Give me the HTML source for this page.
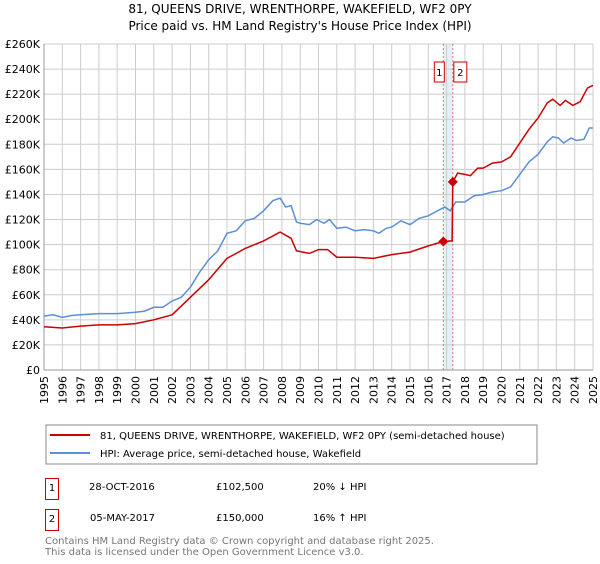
<!DOCTYPE html>
<html><head><meta charset="utf-8"><style>
body{margin:0;background:#fff;font-family:"DejaVu Sans","Liberation Sans",sans-serif;}
svg text{font-family:"DejaVu Sans","Liberation Sans",sans-serif;}
</style></head><body>
<svg id="c" width="600" height="560" xmlns="http://www.w3.org/2000/svg">
<text x="300" y="13" text-anchor="middle" font-size="12">81, QUEENS DRIVE, WRENTHORPE, WAKEFIELD, WF2 0PY</text>
<text x="300" y="30" text-anchor="middle" font-size="12">Price paid vs. HM Land Registry's House Price Index (HPI)</text>
<g id="grid"></g><g id="series"></g>
<rect x="46" y="425" width="491" height="39" fill="#fff" stroke="#888"/>
<line x1="50" y1="435" x2="90" y2="435" stroke="#cc0000" stroke-width="2"/>
<line x1="50" y1="453" x2="90" y2="453" stroke="#5b8fd6" stroke-width="2"/>
<text x="100" y="439" font-size="10">81, QUEENS DRIVE, WRENTHORPE, WAKEFIELD, WF2 0PY (semi-detached house)</text>
<text x="100" y="457" font-size="10">HPI: Average price, semi-detached house, Wakefield</text>
</svg>
<script>
const hpiYears=[1995,1995.5,1996,1996.5,1997,1998,1999,2000,2000.5,2001,2001.5,2002,2002.5,2003,2003.5,2004,2004.5,2005,2005.5,2006,2006.5,2007,2007.5,2007.9,2008.2,2008.5,2008.8,2009,2009.5,2009.9,2010.3,2010.6,2011,2011.5,2012,2012.5,2013,2013.3,2013.7,2014,2014.5,2015,2015.5,2016,2016.5,2016.9,2017.2,2017.5,2018,2018.5,2019,2019.5,2020,2020.5,2021,2021.5,2022,2022.5,2022.8,2023.1,2023.4,2023.8,2024.1,2024.5,2024.8,2025];
const hpiValues=[43,44,42,43.5,44,45,45,46,47,50,50,55,58,66,78,88,95,109,111,119,121,127,135,137,130,131,118,117,116,120,117,120,113,114,111,112,111,109,113,114,119,116,121,123,127,130,127,134,134,139,140,142,143,146,156,166,172,182,186,185,181,185,183,184,193,193];
const priceYears=[1995,1996,1997,1998,1999,2000,2001,2002,2003,2004,2005,2006,2007,2007.9,2008.5,2008.8,2009.5,2010,2010.5,2011,2012,2013,2014,2015,2016,2016.82,2017.3,2017.34,2017.6,2018,2018.3,2018.7,2019,2019.5,2020,2020.5,2021,2021.5,2022,2022.5,2022.8,2023.2,2023.5,2023.9,2024.3,2024.7,2025];
const priceValues=[34.5,33.5,35,36,36,37,40,44,58,72,89,97,103,110,105,95,93,96,96,90,90,89,92,94,99,102.5,103,150,157,156,155,161,161,165,166,170,181,192,201,213,216,211,215,211,214,225,227];
const saleYears=[2016.82,2017.34];
const saleValues=[102.5,150];
const saleLabels=["1","2"];
const yTicks=[0,20,40,60,80,100,120,140,160,180,200,220,240,260];
const xTicks=[1995,1996,1997,1998,1999,2000,2001,2002,2003,2004,2005,2006,2007,2008,2009,2010,2011,2012,2013,2014,2015,2016,2017,2018,2019,2020,2021,2022,2023,2024,2025];
const X=y=>44+(y-1995)*(593-44)/30, Y=v=>370-v*(370-44)/260;
const NS="http://www.w3.org/2000/svg";
const g=document.getElementById('grid'), s=document.getElementById('series');
function mk(p,tag,a){const e=document.createElementNS(NS,tag);for(const k in a)e.setAttribute(k,a[k]);p.appendChild(e);return e;}
const band=mk(g,'rect',{x:X(saleYears[0]),y:44,width:X(saleYears[1])-X(saleYears[0]),height:326,fill:'#e8eef8'});


yTicks.forEach(v=>{mk(g,'line',{x1:44,x2:593,y1:Y(v),y2:Y(v),stroke:'#ccc'});
const t=mk(g,'text',{x:40,y:Y(v)+4,'text-anchor':'end','font-size':11});t.textContent=(v?'£'+v+'K':'£0');

});
xTicks.forEach(yr=>{mk(g,'line',{x1:X(yr),x2:X(yr),y1:44,y2:370,stroke:'#ccc'});
const t=mk(g,'text',{x:X(yr)+4,y:376,'text-anchor':'end','font-size':11,transform:`rotate(-90 ${X(yr)+4} 376)`});t.textContent=yr;

});
mk(g,'line',{x1:44,x2:44,y1:44,y2:370,stroke:'#999'});mk(g,'line',{x1:44,x2:593,y1:370,y2:370,stroke:'#999'});
saleYears.forEach(yr=>{mk(g,'line',{x1:X(yr),x2:X(yr),y1:44,y2:370,stroke:'#f07070','stroke-dasharray':'2,2'});});
const pts=(xs,vs)=>xs.map((x,i)=>X(x).toFixed(1)+','+Y(vs[i]).toFixed(1)).join(' ');
const hl=mk(s,'polyline',{points:pts(hpiYears,hpiValues),fill:'none',stroke:'#5b8fd6','stroke-width':1.5});


const pl=mk(s,'polyline',{points:pts(priceYears,priceValues),fill:'none',stroke:'#cc0000','stroke-width':1.5});


saleYears.forEach((yr,i)=>{const cx=X(yr),cy=Y(saleValues[i]);
const m=mk(s,'polygon',{points:`${cx},${cy-5} ${cx+5},${cy} ${cx},${cy+5} ${cx-5},${cy}`,fill:'#cc0000'});


const bx=i===0?cx-9:cx+1, bw=i===0?10:13;
mk(s,'rect',{x:bx,y:62,width:bw,height:20,fill:'#fff',stroke:'#cc0000'});
const t=mk(s,'text',{x:bx+bw/2,y:76,'text-anchor':'middle','font-size':10});t.textContent=saleLabels[i];

});
</script>
<div style="position:absolute;left:0;top:0;width:600px;height:560px;pointer-events:none;font-size:10px;">
<div>
<div style="position:absolute;left:45px;top:478px;width:12px;height:20px;border:1px solid #cc0000;text-align:center;line-height:20px">1</div>
<div style="position:absolute;left:89px;top:482px">28-OCT-2016</div>
<div style="position:absolute;left:216px;top:482px">£102,500</div>
<div style="position:absolute;left:313px;top:482px">20% ↓ HPI</div></div>
<div>
<div style="position:absolute;left:45px;top:509px;width:12px;height:20px;border:1px solid #cc0000;text-align:center;line-height:20px">2</div>
<div style="position:absolute;left:90px;top:513px">05-MAY-2017</div>
<div style="position:absolute;left:216px;top:513px">£150,000</div>
<div style="position:absolute;left:313px;top:513px">16% ↑ HPI</div></div>
<div style="position:absolute;left:45px;top:536px;color:#777;line-height:11px">Contains HM Land Registry data © Crown copyright and database right 2025.<br>This data is licensed under the Open Government Licence v3.0.</div>
</div>
</body></html>
